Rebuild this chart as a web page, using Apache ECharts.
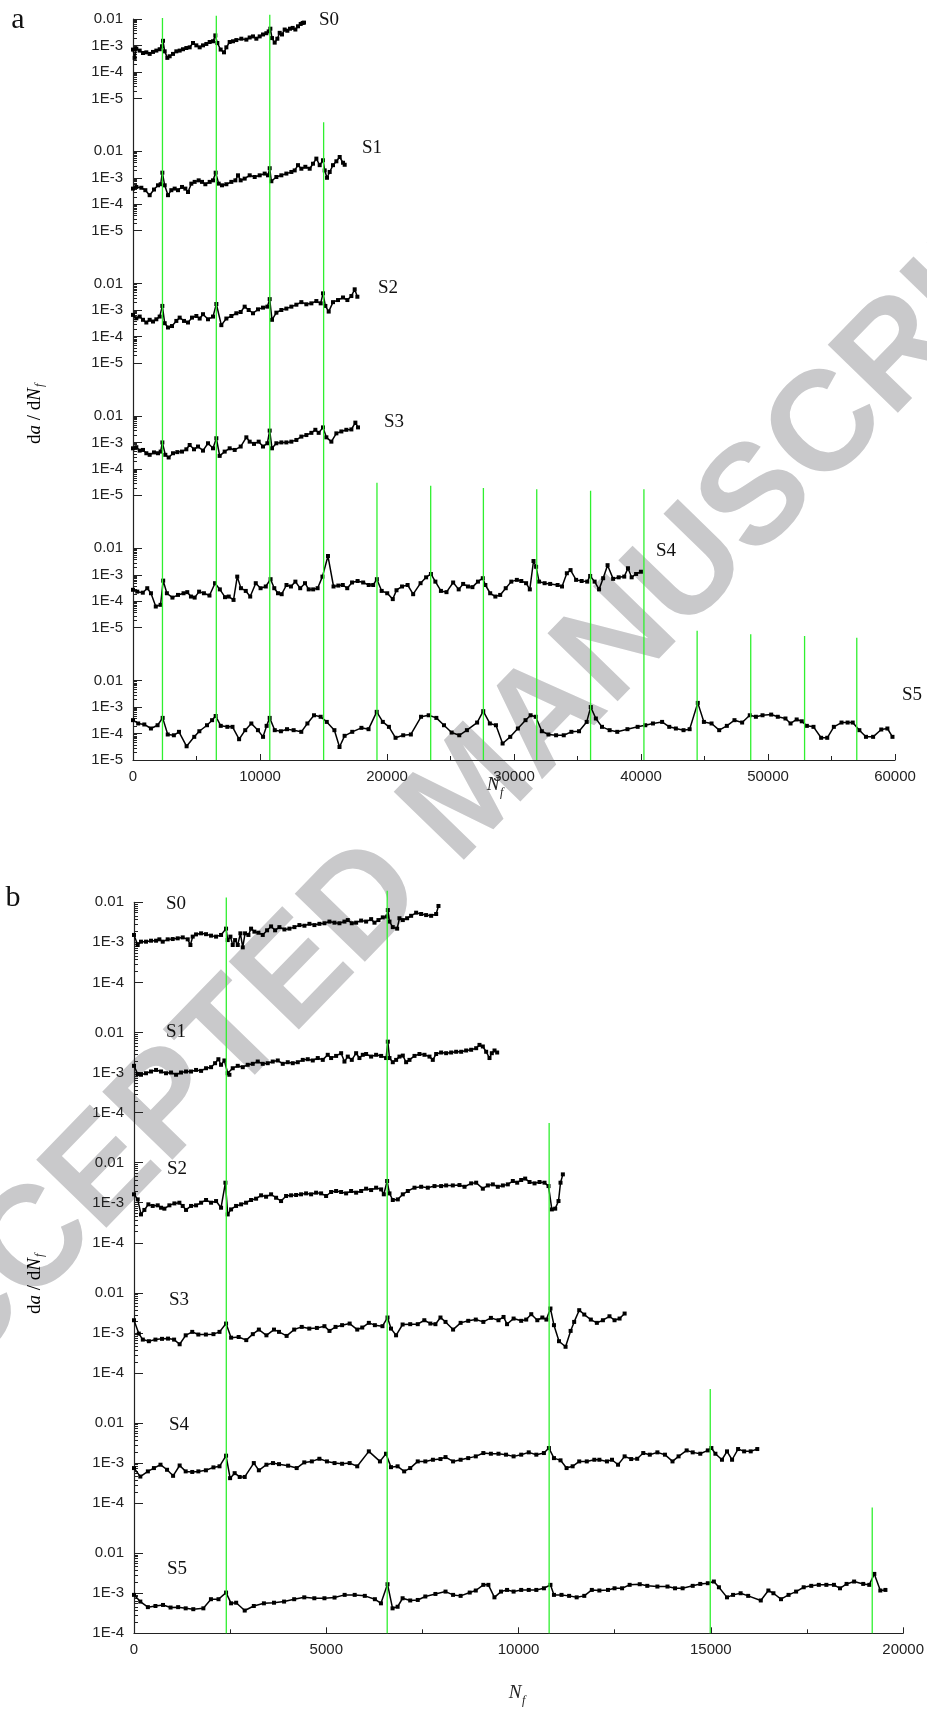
<!DOCTYPE html>
<html>
<head>
<meta charset="utf-8">
<script src="https://cdn.jsdelivr.net/npm/echarts@6.0.0/dist/echarts.min.js"></script>
<style>
html, body { margin: 0; padding: 0; background: #fff; }
#chart { width: 927px; height: 1711px; }
</style>
</head>
<body>
<div id="chart"></div>
<script>
// crack growth rate da/dNf against Nf, six specimens per panel
var seriesNames = ['S0', 'S1', 'S2', 'S3', 'S4', 'S5'];
var tickLabels = { '-2': '0.01', '-3': '1E-3', '-4': '1E-4', '-5': '1E-5' };

// panel a
var s0a = [[0,7.0e-4],[131,3.4e-4],[262,7.6e-4],[525,6.4e-4],[787,5.2e-4],[1050,5.5e-4],[1312,4.8e-4],[1575,5.7e-4],[1837,6.4e-4],[2100,7.2e-4],[2284,9.3e-4],[2362,1.5e-3],[2494,6.0e-4],[2704,3.4e-4],[2887,3.9e-4],[3150,4.8e-4],[3412,6.0e-4],[3675,6.4e-4],[3937,7.2e-4],[4200,8.0e-4],[4462,8.5e-4],[4725,1.24e-3],[4987,1.01e-3],[5250,8.5e-4],[5512,1.01e-3],[5775,1.14e-3],[6037,1.35e-3],[6300,1.44e-3],[6483,2.4e-3],[6641,1.24e-3],[6903,7.0e-4],[7166,5.5e-4],[7350,8.5e-4],[7612,1.35e-3],[7875,1.44e-3],[8137,1.6e-3],[8531,1.8e-3],[8925,1.66e-3],[9187,2.0e-3],[9450,2.2e-3],[9712,1.8e-3],[9975,2.2e-3],[10237,2.6e-3],[10500,2.9e-3],[10684,3.4e-3],[10815,4.3e-3],[10946,1.9e-3],[11156,1.28e-3],[11366,1.8e-3],[11550,3.0e-3],[11733,2.6e-3],[11943,4.0e-3],[12153,3.6e-3],[12363,4.3e-3],[12573,4.6e-3],[12784,4.0e-3],[12994,5.3e-3],[13204,6.5e-3],[13361,7.1e-3],[13466,7.3e-3]];
var s1a = [[0,3.9e-4],[262,4.5e-4],[656,4.2e-4],[971,3.4e-4],[1312,2.2e-4],[1653,3.6e-4],[1968,5.2e-4],[2178,5.7e-4],[2310,1.56e-3],[2494,5.2e-4],[2756,2.2e-4],[3019,3.4e-4],[3281,3.9e-4],[3544,3.4e-4],[3858,4.5e-4],[4121,3.9e-4],[4331,2.9e-4],[4593,6.0e-4],[4856,7.0e-4],[5171,8.0e-4],[5434,7.0e-4],[5696,5.7e-4],[6037,7.0e-4],[6300,8.0e-4],[6510,1.56e-3],[6746,6.0e-4],[7009,5.2e-4],[7350,5.7e-4],[7744,7.0e-4],[8059,8.0e-4],[8269,1.24e-3],[8478,8.0e-4],[8793,9.3e-4],[9187,1.24e-3],[9581,1.07e-3],[9975,1.24e-3],[10369,1.44e-3],[10631,1.24e-3],[10763,2.3e-3],[10894,7.4e-4],[11288,1.07e-3],[11681,1.24e-3],[12075,1.44e-3],[12469,1.66e-3],[12731,1.9e-3],[12994,3.0e-3],[13256,2.2e-3],[13571,2.6e-3],[13912,2.2e-3],[14175,3.4e-3],[14437,5.3e-3],[14700,3.0e-3],[14962,4.6e-3],[15094,1.9e-3],[15278,1.0e-3],[15488,1.66e-3],[15750,3.0e-3],[16013,4.2e-3],[16275,6.1e-3],[16538,3.7e-3],[16669,3.1e-3]];
var s2a = [[0,6.6e-4],[262,4.9e-4],[525,5.7e-4],[787,4.3e-4],[1050,3.4e-4],[1312,4.3e-4],[1575,3.7e-4],[1837,4.5e-4],[2100,5.7e-4],[2310,1.44e-3],[2494,3.2e-4],[2756,2.2e-4],[3071,2.5e-4],[3412,3.9e-4],[3675,5.2e-4],[4016,3.9e-4],[4331,3.4e-4],[4646,5.2e-4],[4987,6.0e-4],[5250,4.8e-4],[5512,7.0e-4],[5906,4.5e-4],[6300,5.7e-4],[6562,1.7e-3],[6956,2.7e-4],[7350,4.8e-4],[7744,6.0e-4],[8137,7.6e-4],[8478,8.5e-4],[8793,1.35e-3],[9108,1.01e-3],[9450,7.6e-4],[9843,1.07e-3],[10237,1.24e-3],[10578,1.35e-3],[10763,2.6e-3],[10946,4.3e-4],[11288,8.0e-4],[11681,1.01e-3],[12075,1.14e-3],[12469,1.35e-3],[12863,1.6e-3],[13256,2.0e-3],[13650,1.66e-3],[14044,1.8e-3],[14437,2.2e-3],[14778,1.8e-3],[14962,4.3e-3],[15146,1.44e-3],[15409,8.8e-4],[15750,2.0e-3],[16144,2.4e-3],[16538,3.0e-3],[16879,2.4e-3],[17194,3.4e-3],[17456,6.1e-3],[17666,3.2e-3]];
var s3a = [[0,6.0e-4],[262,6.6e-4],[525,4.9e-4],[787,5.2e-4],[1050,3.9e-4],[1312,3.4e-4],[1653,4.2e-4],[1968,3.9e-4],[2178,4.5e-4],[2310,1.0e-3],[2546,3.4e-4],[2809,2.7e-4],[3150,3.9e-4],[3491,4.3e-4],[3858,4.5e-4],[4200,5.5e-4],[4462,8.0e-4],[4803,5.5e-4],[5118,7.0e-4],[5512,4.9e-4],[5906,9.3e-4],[6300,6.0e-4],[6562,1.44e-3],[6825,3.1e-4],[7219,4.5e-4],[7612,6.0e-4],[8006,5.2e-4],[8478,7.0e-4],[8925,1.56e-3],[9187,1.07e-3],[9528,8.8e-4],[9896,1.07e-3],[10237,7.0e-4],[10578,9.3e-4],[10763,2.8e-3],[10946,6.0e-4],[11288,9.3e-4],[11681,1.0e-3],[12075,1.0e-3],[12469,1.07e-3],[12863,1.24e-3],[13256,1.66e-3],[13650,1.9e-3],[14044,2.3e-3],[14358,3.0e-3],[14620,2.3e-3],[14962,3.7e-3],[15225,1.56e-3],[15619,1.07e-3],[16013,2.2e-3],[16406,2.6e-3],[16800,3.0e-3],[17194,3.1e-3],[17509,5.6e-3],[17719,3.7e-3]];
var s4a = [[0,2.7e-4],[335,2.3e-4],[772,2.1e-4],[1122,3.1e-4],[1414,2.0e-4],[1793,6.3e-5],[2172,7.3e-5],[2376,6.0e-4],[2668,2.0e-4],[3105,1.37e-4],[3543,1.73e-4],[3980,2.0e-4],[4272,2.2e-4],[4563,1.5e-4],[4855,1.37e-4],[5205,2.3e-4],[5584,2.0e-4],[6021,1.64e-4],[6459,4.8e-4],[6838,2.8e-4],[7246,1.42e-4],[7538,1.5e-4],[7917,1.12e-4],[8208,8.5e-4],[8500,3.1e-4],[8879,2.45e-4],[9229,1.5e-4],[9666,4.8e-4],[10045,3.1e-4],[10454,3.6e-4],[10833,6.8e-4],[11124,3.1e-4],[11416,2.0e-4],[11707,1.84e-4],[12086,4.1e-4],[12436,3.6e-4],[12786,5.5e-4],[13165,3.1e-4],[13545,4.8e-4],[13836,2.8e-4],[14186,2.8e-4],[14536,3.1e-4],[14915,8.5e-4],[15352,5.1e-3],[15790,3.6e-4],[16169,3.9e-4],[16519,4.1e-4],[16869,3.1e-4],[17248,5.1e-4],[17685,5.8e-4],[18123,5.1e-4],[18560,4.1e-4],[18910,4.1e-4],[19202,6.8e-4],[19581,2.45e-4],[20018,2.0e-4],[20455,1.2e-4],[20747,2.6e-4],[21184,3.6e-4],[21622,4.1e-4],[22059,1.84e-4],[22642,4.8e-4],[23080,8.0e-4],[23459,1.07e-3],[23809,5.5e-4],[24246,2.45e-4],[24684,2.2e-4],[25208,5.1e-4],[25646,2.8e-4],[25996,4.5e-4],[26375,3.6e-4],[26725,3.4e-4],[27162,5.5e-4],[27541,7.4e-4],[27745,4.1e-4],[28124,2.0e-4],[28533,1.5e-4],[28912,1.73e-4],[29349,3.1e-4],[29787,5.5e-4],[30224,6.4e-4],[30574,5.8e-4],[30953,4.8e-4],[31245,2.8e-4],[31536,3.3e-3],[31740,2.0e-3],[31974,5.5e-4],[32411,4.8e-4],[32848,4.5e-4],[33432,4.1e-4],[33782,3.6e-4],[34161,1.14e-3],[34452,1.5e-3],[34890,6.4e-4],[35327,5.8e-4],[35765,5.5e-4],[35998,9.0e-4],[36348,5.5e-4],[36698,2.8e-4],[37019,7.4e-4],[37368,2.3e-3],[37806,7.0e-4],[38243,8.0e-4],[38681,8.5e-4],[38973,1.76e-3],[39264,8.0e-4],[39614,1.07e-3],[39993,1.3e-3]];
var s5a = [[0,3.2e-4],[409,2.4e-4],[890,2.2e-4],[1412,1.55e-4],[1934,2.06e-4],[2335,3.9e-4],[2736,9.2e-5],[3218,8.6e-5],[3619,1.16e-4],[4221,3.3e-5],[4823,7.5e-5],[5224,1.22e-4],[5826,2.06e-4],[6227,3.2e-4],[6508,4.6e-4],[6910,1.95e-4],[7431,1.79e-4],[7833,1.79e-4],[8354,6.1e-5],[8836,1.34e-4],[9317,2.4e-4],[9839,1.34e-4],[10240,7.5e-5],[10521,1.95e-4],[10762,3.9e-4],[11163,1.34e-4],[11645,1.22e-4],[12127,1.46e-4],[12648,1.34e-4],[13250,1.16e-4],[13732,2.4e-4],[14253,4.9e-4],[14775,4.3e-4],[15257,2.75e-4],[15859,1.34e-4],[16260,3.1e-5],[16661,8.2e-5],[17263,1.16e-4],[17986,1.64e-4],[18547,1.46e-4],[19189,6.6e-4],[19671,2.75e-4],[20153,1.79e-4],[20674,6.9e-5],[21276,8.6e-5],[21878,9.2e-5],[22681,4.3e-4],[23283,4.9e-4],[23885,3.9e-4],[24487,2.06e-4],[25089,1.09e-4],[25691,8.6e-5],[26292,1.34e-4],[27095,2.6e-4],[27577,7.0e-4],[28098,2.4e-4],[28580,2.06e-4],[29102,4.2e-5],[29704,7.5e-5],[30305,1.55e-4],[30907,3.2e-4],[31309,4.9e-4],[31710,4.3e-4],[32192,1.22e-4],[32713,9.2e-5],[33315,8.6e-5],[33917,8.6e-5],[34519,1.16e-4],[35121,1.22e-4],[35723,2.75e-4],[36044,1.0e-3],[36445,3.7e-4],[36927,1.79e-4],[37529,1.34e-4],[38131,1.16e-4],[38933,1.46e-4],[39736,1.79e-4],[40338,2.06e-4],[40940,2.4e-4],[41662,2.75e-4],[42224,1.79e-4],[42746,1.55e-4],[43348,1.34e-4],[43829,1.46e-4],[44471,1.44e-3],[44953,2.75e-4],[45555,2.4e-4],[46157,1.34e-4],[46759,1.95e-4],[47361,3.2e-4],[47963,2.6e-4],[48565,4.9e-4],[49047,4.3e-4],[49568,4.9e-4],[50250,5.2e-4],[50772,4.3e-4],[51374,3.7e-4],[51775,2.4e-4],[52257,3.4e-4],[52658,2.9e-4],[53059,1.95e-4],[53581,1.79e-4],[54183,6.9e-5],[54664,6.9e-5],[55186,1.79e-4],[55788,2.6e-4],[56270,2.6e-4],[56671,2.6e-4],[57193,1.34e-4],[57714,7.5e-5],[58276,7.5e-5],[58918,1.42e-4],[59400,1.55e-4],[59801,7.5e-5]];

// panel b
var s0b = [[0,1.53e-3],[96,8.6e-4],[182,1.04e-3],[312,1.04e-3],[442,1.1e-3],[572,1.1e-3],[658,1.19e-3],[745,1.04e-3],[874,1.19e-3],[1004,1.21e-3],[1134,1.26e-3],[1264,1.33e-3],[1393,1.19e-3],[1463,8.6e-4],[1523,1.39e-3],[1610,1.58e-3],[1740,1.68e-3],[1869,1.6e-3],[1999,1.47e-3],[2129,1.39e-3],[2258,1.53e-3],[2388,2.2e-3],[2431,1.14e-3],[2501,1.39e-3],[2561,8.6e-4],[2622,1.14e-3],[2691,8.6e-4],[2760,1.68e-3],[2821,7.5e-4],[2881,1.68e-3],[2968,1.53e-3],[3037,2.2e-3],[3123,1.85e-3],[3227,1.74e-3],[3340,1.53e-3],[3452,2.0e-3],[3556,2.5e-3],[3660,2.0e-3],[3772,2.4e-3],[3902,2.1e-3],[4032,2.2e-3],[4162,2.4e-3],[4291,2.7e-3],[4421,2.6e-3],[4551,2.9e-3],[4680,2.7e-3],[4810,2.9e-3],[4940,3.0e-3],[5070,3.3e-3],[5200,3.1e-3],[5329,3.0e-3],[5459,3.3e-3],[5546,3.6e-3],[5649,3.0e-3],[5762,3.1e-3],[5892,3.5e-3],[6021,3.3e-3],[6151,3.8e-3],[6238,3.1e-3],[6341,3.6e-3],[6454,4.2e-3],[6566,4.4e-3],[6584,6.4e-3],[6627,3.3e-3],[6713,2.4e-3],[6826,2.2e-3],[6886,4.0e-3],[6973,3.6e-3],[7085,4.0e-3],[7189,4.6e-3],[7319,5.5e-3],[7449,5.1e-3],[7578,4.8e-3],[7708,4.6e-3],[7838,5.1e-3],[7898,8.1e-3]];
var s1b = [[0,1.47e-3],[96,9.2e-4],[182,8.8e-4],[312,9.6e-4],[442,1.06e-3],[572,1.16e-3],[702,1.06e-3],[831,9.6e-4],[961,1.0e-3],[1091,8.8e-4],[1220,1.0e-3],[1350,1.06e-3],[1480,1.06e-3],[1610,1.16e-3],[1740,1.1e-3],[1869,1.28e-3],[1999,1.36e-3],[2103,1.71e-3],[2189,2.15e-3],[2258,1.56e-3],[2345,2.0e-3],[2431,9.6e-4],[2475,8.8e-4],[2561,1.28e-3],[2691,1.47e-3],[2821,1.36e-3],[2950,1.56e-3],[3080,1.65e-3],[3210,1.88e-3],[3340,1.65e-3],[3469,1.71e-3],[3599,1.88e-3],[3729,2.0e-3],[3859,1.65e-3],[3988,1.81e-3],[4118,1.71e-3],[4248,1.81e-3],[4378,2.07e-3],[4507,2.15e-3],[4637,2.0e-3],[4767,2.3e-3],[4897,2.07e-3],[5026,2.77e-3],[5113,2.3e-3],[5243,2.6e-3],[5373,3.04e-3],[5459,1.88e-3],[5546,2.5e-3],[5649,2.07e-3],[5762,3.04e-3],[5848,2.3e-3],[5935,2.77e-3],[6021,2.9e-3],[6151,2.5e-3],[6281,2.77e-3],[6411,2.6e-3],[6540,2.3e-3],[6584,5.9e-3],[6627,2.3e-3],[6713,1.81e-3],[6800,2.07e-3],[6886,2.5e-3],[6973,2.65e-3],[7059,1.81e-3],[7146,2.07e-3],[7276,2.6e-3],[7405,2.9e-3],[7535,2.77e-3],[7665,2.5e-3],[7751,2.07e-3],[7838,2.9e-3],[7967,3.16e-3],[8097,3.04e-3],[8227,3.16e-3],[8357,3.3e-3],[8487,3.3e-3],[8616,3.55e-3],[8746,3.7e-3],[8876,4.05e-3],[8962,4.9e-3],[9049,4.47e-3],[9135,3.3e-3],[9222,2.3e-3],[9282,3.04e-3],[9352,3.55e-3],[9421,3.16e-3]];
var s2b = [[0,1.62e-3],[96,1.21e-3],[182,5.1e-4],[269,6.6e-4],[373,9.1e-4],[485,8.3e-4],[615,8.6e-4],[702,7.5e-4],[788,7.1e-4],[918,8.6e-4],[1048,9.6e-4],[1177,1.0e-3],[1264,8.3e-4],[1350,6.6e-4],[1480,8.3e-4],[1610,8.6e-4],[1740,1.0e-3],[1869,1.17e-3],[1999,1.0e-3],[2129,1.1e-3],[2258,7.5e-4],[2371,3.16e-3],[2431,5.1e-4],[2518,6.8e-4],[2648,8.3e-4],[2778,9.1e-4],[2907,1.0e-3],[3037,1.17e-3],[3167,1.26e-3],[3297,1.53e-3],[3426,1.41e-3],[3556,1.62e-3],[3686,1.33e-3],[3815,1.1e-3],[3945,1.47e-3],[4075,1.53e-3],[4205,1.56e-3],[4334,1.62e-3],[4464,1.71e-3],[4594,1.62e-3],[4724,1.78e-3],[4853,1.71e-3],[4983,1.47e-3],[5113,1.85e-3],[5243,1.96e-3],[5373,1.85e-3],[5502,1.71e-3],[5632,1.96e-3],[5762,1.78e-3],[5892,1.96e-3],[6021,2.24e-3],[6151,2.07e-3],[6281,2.37e-3],[6411,2.15e-3],[6480,1.62e-3],[6566,3.48e-3],[6627,1.71e-3],[6713,1.17e-3],[6843,1.21e-3],[6973,1.62e-3],[7103,1.96e-3],[7276,2.37e-3],[7449,2.5e-3],[7622,2.37e-3],[7795,2.6e-3],[7967,2.6e-3],[8097,2.7e-3],[8270,2.7e-3],[8443,2.76e-3],[8573,2.5e-3],[8746,3.04e-3],[8876,3.16e-3],[9049,2.24e-3],[9179,2.7e-3],[9308,2.87e-3],[9438,2.5e-3],[9568,2.7e-3],[9697,2.87e-3],[9827,3.48e-3],[9940,3.16e-3],[10044,3.69e-3],[10147,4.0e-3],[10260,3.29e-3],[10390,3.04e-3],[10519,3.29e-3],[10649,3.16e-3],[10753,2.6e-3],[10839,6.8e-4],[10926,7.1e-4],[11012,1.1e-3],[11064,3.16e-3],[11125,5.1e-3]];
var s3b = [[0,2.07e-3],[124,9.6e-4],[229,6.8e-4],[386,6.2e-4],[556,6.8e-4],[726,7.1e-4],[883,7.2e-4],[1040,6.8e-4],[1184,5.2e-4],[1341,8.7e-4],[1511,1.06e-3],[1669,9.1e-4],[1865,9.1e-4],[2061,9.3e-4],[2218,1.06e-3],[2388,1.71e-3],[2519,7.6e-4],[2715,7.9e-4],[2912,6.6e-4],[3082,9.3e-4],[3239,1.21e-3],[3435,8.7e-4],[3631,1.21e-3],[3762,1.06e-3],[3959,8.4e-4],[4155,1.21e-3],[4351,1.41e-3],[4547,1.28e-3],[4744,1.33e-3],[4940,1.47e-3],[5071,1.12e-3],[5228,1.41e-3],[5398,1.56e-3],[5594,1.71e-3],[5791,1.21e-3],[5921,1.36e-3],[6092,1.78e-3],[6248,1.56e-3],[6445,1.47e-3],[6576,2.42e-3],[6667,1.28e-3],[6798,8.7e-4],[6968,1.62e-3],[7165,1.65e-3],[7361,1.65e-3],[7531,2.07e-3],[7688,1.71e-3],[7819,1.65e-3],[7950,2.42e-3],[8081,1.88e-3],[8277,1.21e-3],[8473,1.78e-3],[8670,2.0e-3],[8866,2.15e-3],[9062,1.88e-3],[9258,2.37e-3],[9455,2.07e-3],[9586,2.5e-3],[9677,1.65e-3],[9847,2.28e-3],[10044,2.0e-3],[10174,2.15e-3],[10305,2.93e-3],[10462,2.07e-3],[10593,2.42e-3],[10698,2.15e-3],[10803,4.06e-3],[10894,1.56e-3],[11025,6.2e-4],[11195,4.5e-4],[11326,1.12e-3],[11418,1.88e-3],[11549,3.69e-3],[11680,2.87e-3],[11850,2.15e-3],[12007,1.78e-3],[12164,2.07e-3],[12334,2.6e-3],[12465,2.07e-3],[12596,2.28e-3],[12727,3.04e-3]];
var s4b = [[0,7.5e-4],[164,4.6e-4],[360,6.2e-4],[517,7.5e-4],[687,9.1e-4],[857,6.8e-4],[1014,4.8e-4],[1184,8.7e-4],[1341,6.2e-4],[1511,6.0e-4],[1669,6.2e-4],[1865,6.6e-4],[2061,7.8e-4],[2218,8.3e-4],[2388,1.53e-3],[2493,4.2e-4],[2611,5.6e-4],[2742,4.5e-4],[2872,4.5e-4],[3108,1.0e-3],[3239,6.6e-4],[3435,9.1e-4],[3605,1.0e-3],[3762,9.4e-4],[3998,8.6e-4],[4220,7.5e-4],[4417,1.04e-3],[4613,1.1e-3],[4809,1.28e-3],[5005,1.1e-3],[5202,1.0e-3],[5398,9.6e-4],[5594,1.0e-3],[5791,8.3e-4],[6092,1.96e-3],[6380,1.1e-3],[6537,1.71e-3],[6667,7.9e-4],[6838,8.3e-4],[7008,6.2e-4],[7165,7.5e-4],[7361,1.1e-3],[7557,1.1e-3],[7754,1.21e-3],[7950,1.26e-3],[8081,1.41e-3],[8277,1.1e-3],[8473,1.21e-3],[8670,1.33e-3],[8866,1.47e-3],[9062,1.78e-3],[9258,1.71e-3],[9455,1.71e-3],[9651,1.62e-3],[9847,1.47e-3],[10044,1.62e-3],[10240,1.85e-3],[10436,1.62e-3],[10633,1.78e-3],[10763,2.37e-3],[10894,1.33e-3],[11064,1.17e-3],[11221,7.5e-4],[11378,8.3e-4],[11549,1.1e-3],[11745,1.1e-3],[11941,1.21e-3],[12072,1.21e-3],[12268,1.1e-3],[12399,1.21e-3],[12556,9.1e-4],[12727,1.47e-3],[12897,1.26e-3],[13053,1.28e-3],[13210,1.78e-3],[13380,1.62e-3],[13577,1.85e-3],[13773,1.62e-3],[13969,1.1e-3],[14126,1.47e-3],[14336,2.07e-3],[14493,1.85e-3],[14689,1.71e-3],[14885,2.07e-3],[14977,2.37e-3],[15082,1.71e-3],[15252,1.21e-3],[15383,1.96e-3],[15514,1.21e-3],[15670,2.24e-3],[15827,1.96e-3],[15998,1.96e-3],[16168,2.24e-3]];
var s5b = [[0,9.1e-4],[164,6.2e-4],[360,4.5e-4],[556,4.8e-4],[753,5.1e-4],[949,4.4e-4],[1145,4.5e-4],[1341,4.2e-4],[1538,4.0e-4],[1799,4.2e-4],[1996,7.1e-4],[2192,7.1e-4],[2388,1.04e-3],[2519,5.6e-4],[2650,5.8e-4],[2872,3.7e-4],[3108,4.8e-4],[3370,5.6e-4],[3631,5.8e-4],[3893,6.2e-4],[4155,7.1e-4],[4417,7.9e-4],[4678,7.5e-4],[4940,7.5e-4],[5202,7.8e-4],[5464,9.1e-4],[5725,9.1e-4],[5987,8.6e-4],[6249,7.1e-4],[6406,5.6e-4],[6576,1.68e-3],[6707,4.2e-4],[6838,4.6e-4],[6968,7.5e-4],[7165,6.6e-4],[7361,6.8e-4],[7557,8.3e-4],[7819,9.6e-4],[8081,1.1e-3],[8277,9.1e-4],[8473,8.6e-4],[8709,1.04e-3],[8866,1.17e-3],[9062,1.62e-3],[9193,1.62e-3],[9350,7.9e-4],[9520,1.1e-3],[9677,1.21e-3],[9847,1.1e-3],[10044,1.21e-3],[10240,1.21e-3],[10436,1.21e-3],[10633,1.33e-3],[10803,1.62e-3],[10894,9.1e-4],[11090,9.1e-4],[11287,8.6e-4],[11483,7.9e-4],[11680,8.6e-4],[11876,1.21e-3],[12072,1.17e-3],[12295,1.21e-3],[12465,1.33e-3],[12661,1.33e-3],[12857,1.62e-3],[13119,1.68e-3],[13315,1.53e-3],[13577,1.47e-3],[13839,1.47e-3],[14035,1.33e-3],[14231,1.33e-3],[14493,1.53e-3],[14689,1.71e-3],[14885,1.78e-3],[15042,1.96e-3],[15173,1.41e-3],[15383,7.9e-4],[15540,9.1e-4],[15736,1.0e-3],[15932,8.6e-4],[16259,6.6e-4],[16456,1.17e-3],[16587,1.0e-3],[16783,7.1e-4],[16979,9.1e-4],[17175,1.1e-3],[17372,1.41e-3],[17568,1.53e-3],[17764,1.62e-3],[17960,1.62e-3],[18157,1.62e-3],[18314,1.33e-3],[18484,1.71e-3],[18680,1.96e-3],[18916,1.71e-3],[19073,1.62e-3],[19204,3.04e-3],[19360,1.17e-3],[19492,1.21e-3]];

// green marker lines: cycle count and top, in decades above the bottom of the panel
var greenXA = [2320, 6560, 10770, 15010, 19210, 23440, 27590, 31790, 36030, 40230, 44420, 48640, 52880, 56990];
var greenTopA = [28.04, 28.12, 28.16, 24.1, 10.48, 10.36, 10.28, 10.23, 10.17, 10.23, 4.88, 4.75, 4.69, 4.62];
var greenXB = [2400, 6584, 10795, 14984, 19196];
var greenTopB = [18.37, 18.54, 12.74, 6.1, 3.14];

var panels = [
  { data: [s0a, s1a, s2a, s3a, s4a, s5a], greenX: greenXA, greenTop: greenTopA,
    left: 133, top: 19, width: 762, height: 741, xMax: 60000, xStep: 10000,
    decades: 28, block: 5, span: 3, yMin: 1e-5,
    labelPos: [[329, 20], [372, 148], [388, 288], [394, 422], [666, 551], [912, 695]] },
  { data: [s0b, s1b, s2b, s3b, s4b, s5b], greenX: greenXB, greenTop: greenTopB,
    left: 134, top: 902.3, width: 771, height: 731, xMax: 20000, xStep: 5000,
    decades: 18.25, block: 3.25, span: 2, yMin: 1e-4,
    labelPos: [[176, 904], [176, 1032], [177, 1169], [179, 1300], [179, 1425], [177, 1569]] }
];

var axisColor = '#222';
var sans = '"Liberation Sans", Arial, sans-serif';
var serif = '"Liberation Serif", "Times New Roman", serif';
var grid = [], xAxis = [], yAxis = [], series = [], graphic = [];

panels.forEach(function (p) {
  var dec = p.height / p.decades;
  // full-height frame: x axis, continuous y axis line, green lines
  var g = grid.length;
  grid.push({ left: p.left, top: p.top, width: p.width, height: p.height });
  xAxis.push({
    gridIndex: g, type: 'value', min: 0, max: p.xMax, interval: p.xStep,
    axisLine: { lineStyle: { color: axisColor, width: 1.2 } },
    axisTick: { inside: true, length: 6, lineStyle: { color: axisColor } },
    minorTick: { show: true, splitNumber: 2, length: 4, lineStyle: { color: axisColor } },
    axisLabel: { fontSize: 15, fontFamily: sans, color: axisColor, margin: 9,
      formatter: function (v) { return String(v); } },
    splitLine: { show: false }
  });
  yAxis.push({
    gridIndex: g, type: 'value', min: 0, max: p.decades,
    axisLine: { show: true, lineStyle: { color: axisColor, width: 1.2 } },
    axisTick: { show: false }, axisLabel: { show: false }, splitLine: { show: false }
  });
  p.greenX.forEach(function (x, i) {
    series.push({
      type: 'line', xAxisIndex: g, yAxisIndex: g, data: [[x, 0], [x, p.greenTop[i]]],
      symbol: 'none', clip: false, silent: true, z: 5,
      lineStyle: { color: '#2ff02f', width: 1.3 }
    });
  });

  // one log sub-axis per specimen
  p.data.forEach(function (d, i) {
    var b = p.data.length - 1 - i;
    var bottom = p.top + p.height - b * p.block * dec;
    var h = p.span * dec;
    var k = grid.length;
    grid.push({ left: p.left, top: bottom - h, width: p.width, height: h });
    xAxis.push({ gridIndex: k, type: 'value', min: 0, max: p.xMax, show: false });
    yAxis.push({
      gridIndex: k, type: 'log', logBase: 10, min: p.yMin, max: 0.01,
      axisLine: { show: false },
      axisTick: { show: true, inside: true, length: 9, lineStyle: { color: axisColor } },
      minorTick: { show: true, splitNumber: 10, length: 4, lineStyle: { color: axisColor } },
      axisLabel: {
        fontSize: 15, fontFamily: sans, color: axisColor, margin: 10,
        formatter: function (v) { return tickLabels[Math.round(Math.log10(v))] || ''; }
      },
      splitLine: { show: false }, minorSplitLine: { show: false }
    });
    series.push({
      type: 'line', name: seriesNames[i], xAxisIndex: k, yAxisIndex: k, data: d,
      symbol: 'rect', symbolSize: 4, z: 3,
      lineStyle: { color: '#000', width: 1.5 }, itemStyle: { color: '#000' }
    });
    graphic.push({
      type: 'text', x: p.labelPos[i][0], y: p.labelPos[i][1], z: 10,
      style: { text: seriesNames[i], fill: '#111', font: '19px ' + serif, align: 'center', verticalAlign: 'middle' }
    });
  });
});

var richTitle = {
  r: { fontFamily: serif, fontSize: 19, color: '#222' },
  i: { fontFamily: serif, fontSize: 19, fontStyle: 'italic', color: '#222' }
};
function yTitle(x, y) {
  return {
    type: 'group', x: x, y: y, rotation: Math.PI / 2, z: 10,
    children: [
      { type: 'text', x: -3, y: 0, style: { text: '{r|d}{i|a}{r| / d}{i|N}', rich: richTitle, align: 'center', verticalAlign: 'middle' } },
      { type: 'text', x: 26, y: 5, style: { text: 'f', font: 'italic 12px ' + serif, fill: '#222', align: 'left', verticalAlign: 'middle' } }
    ]
  };
}
function xTitle(x, y) {
  return {
    type: 'group', x: x, y: y, z: 10,
    children: [
      { type: 'text', x: 0, y: 0, style: { text: 'N', font: 'italic 19px ' + serif, fill: '#222', align: 'center', verticalAlign: 'middle' } },
      { type: 'text', x: 7, y: 8, style: { text: 'f', font: 'italic 12px ' + serif, fill: '#222', align: 'left', verticalAlign: 'middle' } }
    ]
  };
}
graphic.push(yTitle(35, 413), yTitle(35, 1283), xTitle(493, 785), xTitle(515, 1693));
graphic.push(
  { type: 'text', x: 18, y: 20, z: 10, style: { text: 'a', font: '30px ' + serif, fill: '#111', align: 'center', verticalAlign: 'middle' } },
  { type: 'text', x: 13, y: 898, z: 10, style: { text: 'b', font: '30px ' + serif, fill: '#111', align: 'center', verticalAlign: 'middle' } }
);
// journal watermark behind the plot
graphic.push({
  type: 'text', x: 473, y: 794, rotation: 0.80, z: -10, silent: true,
  style: { text: 'ACCEPTED MANUSCRIPT', font: 'bold 142px ' + sans, fill: '#c9c9cb', align: 'center', verticalAlign: 'middle' }
});

var chart = echarts.init(document.getElementById('chart'));
chart.setOption({
  animation: false,
  backgroundColor: '#fff',
  grid: grid,
  xAxis: xAxis,
  yAxis: yAxis,
  series: series,
  graphic: graphic
});
</script>
</body>
</html>
